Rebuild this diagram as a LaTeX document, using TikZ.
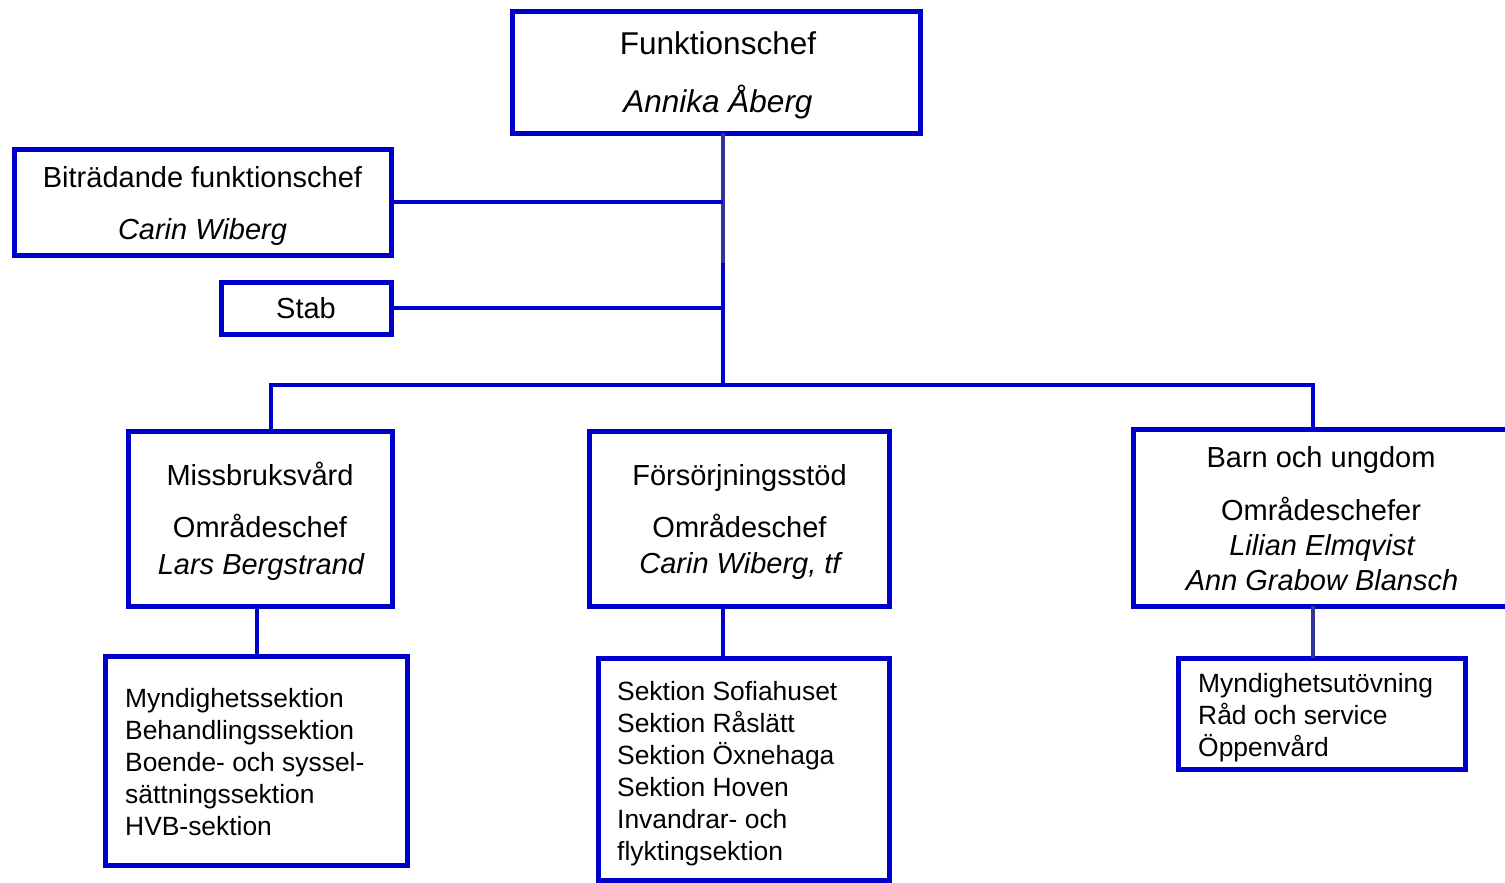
\documentclass[tikz,border=0pt]{standalone}
\usepackage{fontspec}
\setmainfont{Liberation Sans}
\definecolor{boxblue}{RGB}{0,0,204}
\definecolor{darkline}{RGB}{51,51,153}
\tikzset{
  orgbox/.style={draw=boxblue, line width=5pt, fill=white, inner sep=0pt, outer sep=0pt, minimum width=#1},
  bigtxt/.style={font=\fontsize{31.5}{36}\selectfont, anchor=base, inner sep=0pt},
  midtxt/.style={font=\fontsize{29}{34}\selectfont, anchor=base, inner sep=0pt},
  midit/.style={font=\fontsize{29}{34}\selectfont\itshape, anchor=base, inner sep=0pt},
  smalltxt/.style={font=\fontsize{26.4}{32}\selectfont, anchor=base west, inner sep=0pt},
  conn/.style={draw=boxblue, line width=4.5pt},
  darkconn/.style={draw=darkline, line width=4.5pt}
}
\begin{document}
\begin{tikzpicture}[x=1pt,y=-1pt]
\useasboundingbox (0,0) rectangle (1505,883);
\clip (0,0) rectangle (1505,883);
% junction coordinates
\coordinate (j1) at (723,263);
\coordinate (j2) at (723,385);
\coordinate (bl) at (271,385);
\coordinate (br) at (1313,385);
\coordinate (cl) at (257,630);
\coordinate (cm) at (723,630);
\coordinate (cr) at (1313,630);
% boxes
\node[orgbox=408pt, minimum height=121pt] (top)  at (716.5,72.5) {};
\node[orgbox=377pt, minimum height=106pt] (bit)  at (202.5,202) {};
\node[orgbox=170pt, minimum height=52pt]  (stab) at (306,308) {};
\node[orgbox=264pt, minimum height=175pt] (miss) at (260,518.5) {};
\node[orgbox=300pt, minimum height=175pt] (fors) at (739,518.5) {};
\node[orgbox=397pt, minimum height=177pt] (barn) at (1331.5,517.5) {};
\node[orgbox=302pt, minimum height=209pt] (lowl) at (256,760.5) {};
\node[orgbox=291pt, minimum height=222pt] (lowm) at (743.5,769) {};
\node[orgbox=287pt, minimum height=111pt] (lowr) at (1321.5,713.5) {};
% connectors
\draw[darkconn] (top.south -| j1) -- (j1);
\draw[conn] (j1) -- (j2);
\draw[conn] (bit.east) -- (bit.east -| j1);
\draw[conn] (stab.east) -- (stab.east -| j1);
\draw[conn] (miss.north -| bl) -- (bl) -- (br) -- (barn.north -| br);
\draw[conn] (miss.south -| cl) -- (lowl.north -| cl);
\draw[conn] (fors.south -| cm) -- (lowm.north -| cm);
\draw[darkconn] (barn.south -| cr) -- (lowr.north -| cr);
% texts
\node[bigtxt] (t1) at (718,55) {Funktionschef};
\node[bigtxt] (t2) at (718,112) {\itshape Annika Åberg};
\node[midtxt] (b1) at (202.5,187) {Biträdande funktionschef};
\node[midit]  (b2) at (202.5,239) {Carin Wiberg};
\node[midtxt] (s1) at (306,318) {Stab};
\node[midtxt] (m1) at (260,485) {Missbruksvård};
\node[midtxt] (m2) at (260,537) {Områdeschef};
\node[midit]  (m3) at (261,574) {Lars Bergstrand};
\node[midtxt] (f1) at (739.5,485) {Försörjningsstöd};
\node[midtxt] (f2) at (739.5,537) {Områdeschef};
\node[midit]  (f3) at (740,573) {Carin Wiberg, tf};
\node[midtxt] (r1) at (1321,467) {Barn och ungdom};
\node[midtxt] (r2) at (1321,520) {Områdeschefer};
\node[midit]  (r3) at (1322,555) {Lilian Elmqvist};
\node[midit]  (r4) at (1322,590) {Ann Grabow Blansch};
% lower left
\node[smalltxt] (l1) at (125,707) {Myndighetssektion};
\node[smalltxt] (l2) at (125,739) {Behandlingssektion};
\node[smalltxt] (l3) at (125,771) {Boende- och syssel-};
\node[smalltxt] (l4) at (125,803) {sättningssektion};
\node[smalltxt] (l5) at (125,835) {HVB-sektion};
% lower middle
\node[smalltxt] (n1) at (617,700) {Sektion Sofiahuset};
\node[smalltxt] (n2) at (617,732) {Sektion Råslätt};
\node[smalltxt] (n3) at (617,764) {Sektion Öxnehaga};
\node[smalltxt] (n4) at (617,796) {Sektion Hoven};
\node[smalltxt] (n5) at (617,828) {Invandrar- och};
\node[smalltxt] (n6) at (617,860) {flyktingsektion};
% lower right
\node[smalltxt] (q1) at (1198,692) {Myndighetsutövning};
\node[smalltxt] (q2) at (1198,724) {Råd och service};
\node[smalltxt] (q3) at (1198,756) {Öppenvård};
\end{tikzpicture}
\end{document}
